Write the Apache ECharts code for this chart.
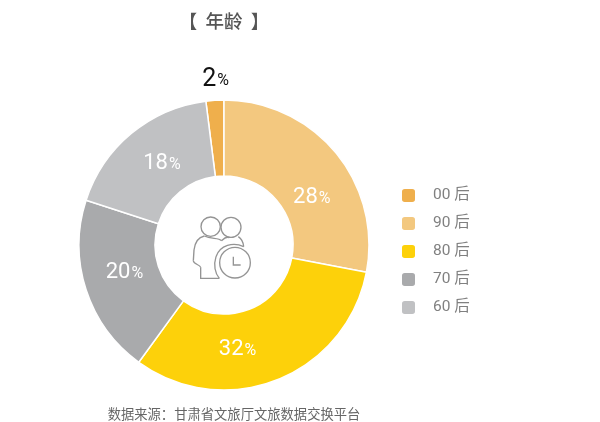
<!DOCTYPE html>
<html>
<head>
<meta charset="utf-8">
<style>html,body{margin:0;padding:0;background:#fff}#main{width:600px;height:422px}</style>
<script src="https://cdn.jsdelivr.net/npm/echarts@6/dist/echarts.min.js"></script>
</head>
<body>
<div id="main"></div>
<script>
var categories = ['00 后', '90 后', '80 后', '70 后', '60 后'];
var values = [2, 28, 32, 20, 18];
var colors = ['#EFAF4C', '#F3C87F', '#FDD10A', '#A9AAAC', '#C0C1C3'];

var FONT = '"Noto Sans CJK SC","Noto Sans",sans-serif';
var NUM_FONT = 'Roboto,"Noto Sans CJK SC",sans-serif';
var myChart = echarts.init(document.getElementById('main'));

// 标签微调，原图的标签不在扇区正中
var labelShift = [[50, -6], [3, 23], [-27, 2], [5, -6], [8, 3]];

var pieData = [];
for (var i = 0; i < categories.length; i++) {
	pieData.push({
		name: categories[i],
		value: values[i],
		itemStyle: { color: colors[i] },
		label: { offset: labelShift[i] }
	});
}
// 2% 的标签放在环外，黑色
pieData[0].label.position = 'outside';
pieData[0].label.rich = {
	num: { fontSize: 25, color: '#111', fontFamily: NUM_FONT, fontWeight: 400 },
	pct: { fontSize: 16, color: '#111', fontFamily: NUM_FONT, fontWeight: 400, padding: [4, 0, 0, 1] }
};
pieData[0].labelLine = { show: false };

var iconStroke = { fill: 'none', stroke: '#949494', lineWidth: 4 };

// 中间图标的线条
function curve(x1, y1, cx1, cy1, cx2, cy2, x2, y2) {
	return { type: 'bezierCurve', shape: { x1: x1, y1: y1, cpx1: cx1, cpy1: cy1, cpx2: cx2, cpy2: cy2, x2: x2, y2: y2 }, style: iconStroke };
}
function poly(points) {
	return { type: 'polyline', shape: { points: points }, style: iconStroke };
}

var option = {
	animation: false,
	backgroundColor: '#fff',
	title: [
		{ text: '【  年龄  】', left: 219, top: 7, textAlign: 'center',
			textStyle: { fontFamily: FONT, fontSize: 18.5, fontWeight: 500, color: '#555' } },
		{ text: '数据来源：甘肃省文旅厅文旅数据交换平台', left: 229, top: 402, textAlign: 'center',
			textStyle: { fontFamily: FONT, fontSize: 13.3, fontWeight: 400, color: '#666' } }
	],
	legend: {
		orient: 'vertical',
		left: 400,
		top: 187,
		padding: 0,
		itemWidth: 15,
		itemHeight: 15,
		itemGap: 11,
		icon: 'roundRect',
		data: categories,
		textStyle: { fontFamily: NUM_FONT, fontWeight: 400, fontSize: 15.5, color: '#808080', padding: [0, 0, 0, 12] }
	},
	series: [{
		type: 'pie',
		center: [224, 245],
		radius: [69, 145],
		startAngle: 97.2,
		clockwise: true,
		avoidLabelOverlap: false,
		itemStyle: { borderColor: '#fff', borderWidth: 1.5 },
		label: {
			position: 'inside',
			formatter: function (p) { return '{num|' + p.value + '}{pct|%}'; },
			rich: {
				num: { fontSize: 22, color: '#fff', fontFamily: NUM_FONT, fontWeight: 400 },
				pct: { fontSize: 16, color: '#fff', fontFamily: NUM_FONT, fontWeight: 400, padding: [3, 0, 0, 1] }
			}
		},
		data: pieData
	}],
	graphic: [{
		type: 'group',
		x: 170,
		y: 200,
		scaleX: 1 / 3,
		scaleY: 1 / 3,
		silent: true,
		children: [
			{ type: 'circle', shape: { cx: 122, cy: 80, r: 29 }, style: iconStroke },
			{ type: 'circle', shape: { cx: 183, cy: 82, r: 30 }, style: iconStroke },
			{ type: 'circle', shape: { cx: 195, cy: 188, r: 46 }, style: iconStroke },
			poly([[190, 170], [190, 195], [212, 195]]),
			curve(103, 108, 85, 112, 75, 125, 72, 150),
			poly([[72, 150], [70, 182]]),
			curve(70, 182, 70, 192, 90, 194, 92, 202),
			poly([[92, 202], [92, 235], [148, 235]]),
			curve(103, 108, 125, 118, 145, 112, 155, 122),
			curve(155, 122, 162, 115, 168, 108, 178, 113),
			curve(205, 110, 214, 116, 220, 128, 221, 140),
			curve(221, 140, 190, 125, 150, 135, 138, 170),
			curve(138, 170, 130, 195, 135, 220, 148, 235)
		]
	}]
};
myChart.setOption(option);
</script>
</body>
</html>
